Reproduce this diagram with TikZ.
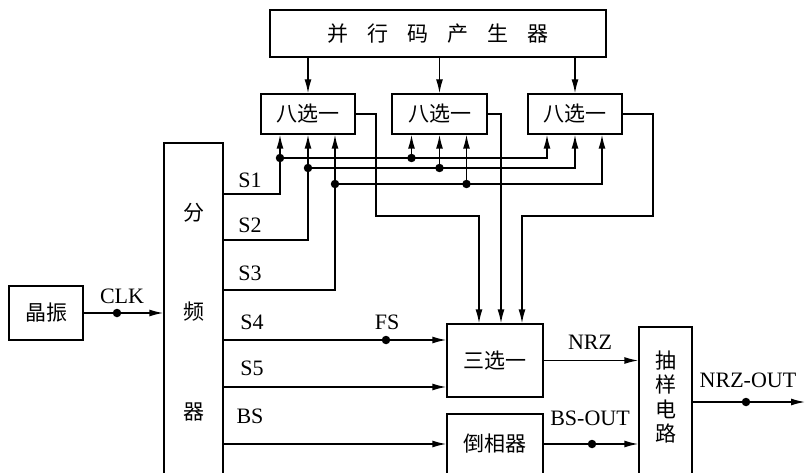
\documentclass[tikz,border=0pt]{standalone}
\usepackage{fontspec}
\setmainfont{Liberation Serif}
\newfontfamily\cjk{Noto Sans CJK SC}
\usetikzlibrary{arrows.meta}
\begin{document}
\begin{tikzpicture}[x=1pt,y=-1pt, line width=1.4pt,
  box/.style={draw, rectangle, inner sep=0pt},
  arr/.style={-{Latex[length=14pt,width=7pt]}},
  cn/.style={font=\cjk\fontsize{21}{24.5}\selectfont, inner sep=0pt},
  lbl/.style={font=\fontsize{22}{24}\selectfont, inner sep=0pt},
  dot/.style={circle, fill, inner sep=0pt, minimum size=8.5pt}]
\useasboundingbox (0,0) rectangle (806,473);
\clip (0,0) rectangle (806,473);
% boxes
\node[box, minimum width=336pt, minimum height=47pt] (gen) at (438,33.5) {};
\node[cn] (gent) at (438,33.5) {并\hspace{19pt}行\hspace{19pt}码\hspace{19pt}产\hspace{19pt}生\hspace{19pt}器};
\node[box, cn, minimum width=94pt, minimum height=40pt] (m1) at (308,114) {八选一};
\node[box, cn, minimum width=95pt, minimum height=40pt] (m2) at (439.5,114) {八选一};
\node[box, cn, minimum width=94pt, minimum height=40pt] (m3) at (575,114) {八选一};
\node[box, minimum width=59pt, minimum height=347pt] (div) at (193.5,316.5) {};
\node[cn] (divt1) at (193.5,213) {分};
\node[cn] (divt2) at (193.5,312) {频};
\node[cn] (divt3) at (193.5,412) {器};
\node[box, cn, minimum width=74pt, minimum height=54pt] (osc) at (46,313) {晶振};
\node[box, cn, minimum width=96pt, minimum height=73pt] (sel3) at (495,360.5) {三选一};
\node[box, cn, minimum width=96pt, minimum height=60pt] (inv) at (495,444) {倒相器};
\node[box, minimum width=53pt, minimum height=163pt] (samp) at (665.5,408.5) {};
\node[cn, align=center] (sampt) at (665.5,397) {抽\\样\\电\\路};
% generator to multiplexers
\draw[arr] (gen.south -| m1.north) -- (m1.north);
\draw[arr] (gen.south -| m2.north) -- (m2.north);
\draw[arr] (gen.south -| m3.north) -- (m3.north);
% dots on select buses
\node[dot] (d1a) at (280,158) {};
\node[dot] (d1b) at (411.5,158) {};
\node[dot] (d2a) at (308,168) {};
\node[dot] (d2b) at (439.5,168) {};
\node[dot] (d3a) at (335,184) {};
\node[dot] (d3b) at (466.5,184) {};
% S1
\draw[arr] (div.east |- 0,194) -| ([xshift=-28]m1.south);
\draw[arr] (d1a.center) -| ([xshift=-28]m3.south);
\draw[arr] (d1b.center) -- ([xshift=-28]m2.south);
% S2
\draw[arr] (div.east |- 0,240) -| (m1.south);
\draw[arr] (d2a.center) -| (m3.south);
\draw[arr] (d2b.center) -- (m2.south);
% S3
\draw[arr] (div.east |- 0,290) -| ([xshift=27]m1.south);
\draw[arr] (d3a.center) -| ([xshift=27]m3.south);
\draw[arr] (d3b.center) -- ([xshift=27]m2.south);
% multiplexer outputs
\coordinate (b1) at (376,216);
\coordinate (b3) at (653,216);
\draw[arr] (m1.east) -| (b1) -| ([xshift=-16]sel3.north);
\draw[arr] (m2.east) -| ([xshift=6]sel3.north);
\draw[arr] (m3.east) -| (b3) -| ([xshift=27]sel3.north);
% clock
\draw[arr] (osc.east) -- (osc.east -| div.west);
\node[dot] (dclk) at (117,313) {};
% S4 S5 BS
\draw[arr] (div.east |- 0,340) -- (sel3.west |- 0,340);
\node[dot] (dfs) at (386,340) {};
\draw[arr] (div.east |- 0,387) -- (sel3.west |- 0,387);
\draw[arr] (div.east |- inv.west) -- (inv.west);
% outputs
\draw[arr] (sel3.east) -- (sel3.east -| samp.west);
\draw[arr] (inv.east) -- (inv.east -| samp.west);
\node[dot] (dbs) at (592,444) {};
\coordinate (out) at (805,402);
\draw[arr] (samp.east |- out) -- (out);
\node[dot] (dout) at (746,402) {};
% labels
\node[lbl] at (122,296) {CLK};
\node[lbl] at (250,180) {S1};
\node[lbl] at (250,225) {S2};
\node[lbl] at (250,273) {S3};
\node[lbl] at (252,322) {S4};
\node[lbl] at (252,368) {S5};
\node[lbl] at (250,416) {BS};
\node[lbl] at (387,322) {FS};
\node[lbl] at (590,342) {NRZ};
\node[lbl] at (590,418) {BS-OUT};
\node[lbl] at (748,380) {NRZ-OUT};
\end{tikzpicture}
\end{document}
